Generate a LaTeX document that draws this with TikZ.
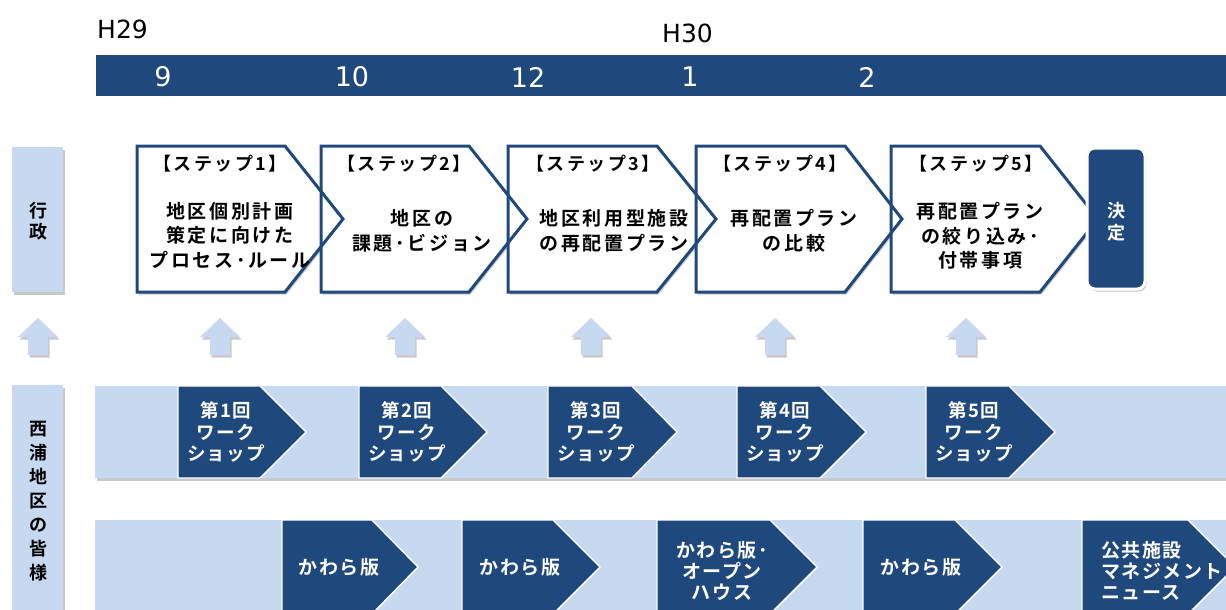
\documentclass[tikz,border=0pt]{standalone}
\usepackage{fontspec}
\setmainfont{Noto Sans CJK JP}[BoldFont={Noto Sans CJK JP Bold}]
\newfontfamily\latinfont{DejaVu Sans}
\usetikzlibrary{shadows}
\definecolor{dkb}{HTML}{1F497D}
\definecolor{ltb}{HTML}{C6D9F1}
\newcommand\mypenta[6]{\path[#1] (#2,#5) -- (#3,#5) -- (#4,{(#5+#6)/2}) -- (#3,#6) -- (#2,#6) -- cycle;}
\newcommand\myup[1]{\path[uparrow] (#1,318) -- (#1+20,337) -- (#1+10,337) -- (#1+10,355) -- (#1-10,355) -- (#1-10,337) -- (#1-20,337) -- cycle;}
\newcommand\mysp[1]{\addfontfeatures{LetterSpace=#1}}
\tikzset{
  shd/.style={drop shadow={shadow xshift=1.5pt,shadow yshift=-2.5pt,opacity=0.3,fill=black!70}},
  stepfill/.style={fill=white,shd},
  stepline/.style={draw=dkb,line width=3pt,line join=miter},
  band/.style={fill=ltb,shd},
  darkarrow/.style={fill=dkb,draw=white,line width=1.4pt,line join=miter},
  uparrow/.style={fill=ltb,shd},
  hdr/.style={font=\bfseries\fontsize{18}{20}\selectfont\mysp{14},anchor=west,inner sep=0pt},
  body/.style={font=\bfseries\fontsize{19}{24.5}\selectfont\mysp{14},align=center,inner sep=0pt},
  wtext/.style={font=\bfseries\fontsize{18.5}{21.5}\selectfont\mysp{7},text=white,align=center,inner sep=0pt},
  ktext/.style={font=\bfseries\fontsize{19}{21}\selectfont\mysp{8},text=white,align=center,inner sep=0pt},
  month/.style={font=\latinfont\fontsize{27}{27}\selectfont,text=white,inner sep=0pt},
  year/.style={font=\latinfont\fontsize{25}{25}\selectfont,inner sep=0pt,anchor=west},
  side/.style={font=\bfseries\fontsize{18}{22}\selectfont,align=center,inner sep=0pt},
}
\begin{document}
\begin{tikzpicture}[x=1pt,y=-1pt]
\useasboundingbox (0,0) rectangle (1226,610);
% year labels and month bar
\node[year] (h29) at (97,29.5) {H29};
\node[year] (h30) at (662,33.5) {H30};
\fill[dkb] (95.5,55) rectangle (1226,96);
\node[month] (m9) at (163,77) {9};
\node[month] (m10) at (352,77) {10};
\node[month] (m12) at (528,77) {12};
\node[month] (m1) at (690,77) {1};
\node[month] (m2) at (867,77) {2};
% side labels
\path[band] (12,147) rectangle (63,292);
\node[side] (gyosei) at (38,221) {行\\[-1pt]政};
\path[band] (12,385) rectangle (63,616);
\node[side] (minasama) at (38,501) {西\\[2pt]浦\\[2pt]地\\[2pt]区\\[2pt]の\\[2pt]皆\\[2pt]様};
% up arrows
\myup{38}\myup{220}\myup{405}\myup{591}\myup{775}\myup{966}
% step boxes
\mypenta{stepfill}{137}{285}{343}{146}{292}
\mypenta{stepfill}{321}{469}{527}{146}{292}
\mypenta{stepfill}{508}{657}{716}{146}{292}
\mypenta{stepfill}{696}{845}{902}{146}{292}
\mypenta{stepfill}{891}{1040}{1098}{146}{292}
\mypenta{stepline}{137}{285}{343}{146}{292}
\mypenta{stepline}{321}{469}{527}{146}{292}
\mypenta{stepline}{508}{657}{716}{146}{292}
\mypenta{stepline}{696}{845}{902}{146}{292}
\mypenta{stepline}{891}{1040}{1098}{146}{292}
\node[hdr] (s1h) at (153,164) {【ステップ1】};
\node[hdr] (s2h) at (337,164) {【ステップ2】};
\node[hdr] (s3h) at (526,164) {【ステップ3】};
\node[hdr] (s4h) at (713,164) {【ステップ4】};
\node[hdr] (s5h) at (909,164) {【ステップ5】};
\node[body] (s1b) at (230,235) {地区個別計画\\策定に向けた\\プロセス･ルール};
\node[body] (s2b) at (422,231) {地区の\\課題･ビジョン};
\node[body] (s3b) at (614,231) {地区利用型施設\\の再配置プラン};
\node[body] (s4b) at (794,231) {再配置プラン\\の比較};
\node[body] (s5b) at (980,236) {再配置プラン\\の絞り込み･\\付帯事項};
% decision
\path[fill=dkb,draw=white,line width=3pt,rounded corners=8pt,shd] (1087,148) rectangle (1145,289);
\node[side,text=white] (kettei) at (1116,222) {決\\定};
% workshop band
\path[band] (95,386) rectangle (1226,478);
\mypenta{darkarrow}{178}{260}{306}{386}{478}
\mypenta{darkarrow}{359}{441}{487}{386}{478}
\mypenta{darkarrow}{548}{632}{677}{386}{478}
\mypenta{darkarrow}{737}{820}{866}{386}{478}
\mypenta{darkarrow}{926}{1009}{1055}{386}{478}
\node[wtext] (w1) at (226,432) {第1回\\ワーク\\ショップ};
\node[wtext] (w2) at (407,432) {第2回\\ワーク\\ショップ};
\node[wtext] (w3) at (596,432) {第3回\\ワーク\\ショップ};
\node[wtext] (w4) at (785,432) {第4回\\ワーク\\ショップ};
\node[wtext] (w5) at (974,432) {第5回\\ワーク\\ショップ};
% newsletter band
\path[band] (95,520) rectangle (1226,616);
\mypenta{darkarrow}{282}{372}{418}{520}{614}
\mypenta{darkarrow}{462}{553}{600}{520}{614}
\mypenta{darkarrow}{657}{770}{817}{520}{614}
\mypenta{darkarrow}{863}{955}{1002}{520}{614}
\mypenta{darkarrow}{1082}{1188}{1235}{520}{614}
\node[ktext] (k1) at (339,567) {かわら版};
\node[ktext] (k2) at (520,567) {かわら版};
\node[ktext] (k3) at (722,571) {かわら版･\\オープン\\ハウス};
\node[ktext] (k4) at (921,567) {かわら版};
\node[ktext,align=left,anchor=west] (k5) at (1101,571) {公共施設\\マネジメント\\ニュース};
\end{tikzpicture}
\end{document}
